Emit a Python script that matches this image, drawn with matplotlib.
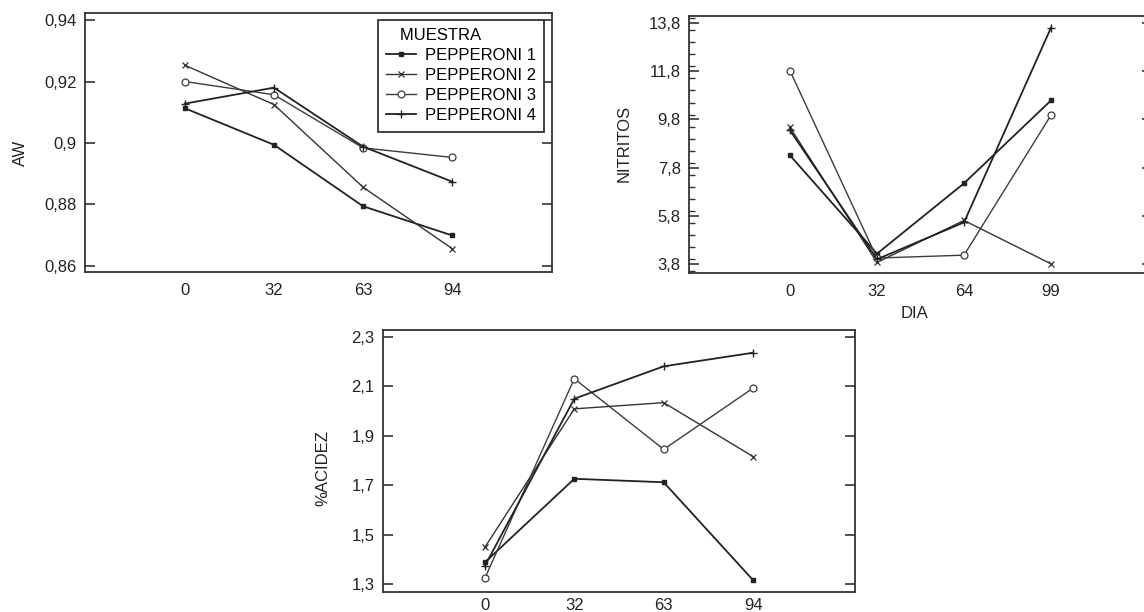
import numpy as np
import matplotlib
matplotlib.use("Agg")
import matplotlib.pyplot as plt
from matplotlib.ticker import FixedLocator, MultipleLocator

plt.rcParams['font.family'] = ['Liberation Sans', 'DejaVu Sans']
plt.rcParams['font.size'] = 12

# data
muestras = ["PEPPERONI 1", "PEPPERONI 2", "PEPPERONI 3", "PEPPERONI 4"]

dias_aw = ["0", "32", "63", "94"]
aw_p1 = [0.9113, 0.8994, 0.8794, 0.8699]
aw_p2 = [0.9253, 0.9125, 0.8856, 0.8656]
aw_p3 = [0.9200, 0.9157, 0.8984, 0.8953]
aw_p4 = [0.9128, 0.9180, 0.8988, 0.8874]

dias_nit = ["0", "32", "64", "99"]
nit_p1 = [8.31, 4.23, 7.15, 10.59]
nit_p2 = [9.47, 3.87, 5.61, 3.81]
nit_p3 = [11.82, 4.05, 4.17, 9.98]
nit_p4 = [9.35, 4.00, 5.53, 13.61]

dias_ac = ["0", "32", "63", "94"]
ac_p1 = [1.388, 1.726, 1.712, 1.316]
ac_p2 = [1.449, 2.009, 2.034, 1.816]
ac_p3 = [1.324, 2.131, 1.845, 2.093]
ac_p4 = [1.374, 2.050, 2.181, 2.236]

aw_ticks = [0.86, 0.88, 0.90, 0.92, 0.94]
aw_ticklabels = ["0,86", "0,88", "0,9", "0,92", "0,94"]
nit_ticks = [3.8, 5.8, 7.8, 9.8, 11.8, 13.8]
nit_ticklabels = ["3,8", "5,8", "7,8", "9,8", "11,8", "13,8"]
ac_ticks = [1.3, 1.5, 1.7, 1.9, 2.1, 2.3]
ac_ticklabels = ["1,3", "1,5", "1,7", "1,9", "2,1", "2,3"]

W, H = 1144, 612
styles = [
    dict(marker="s", ms=3, color="#222222", lw=1.3, mfc="#222222"),
    dict(marker="x", ms=5, color="#333333", lw=1.0, mew=0.9),
    dict(marker="o", ms=5, color="#3c3c3c", lw=1.0, mfc="white", mew=0.9),
    dict(marker="+", ms=6, color="#222222", lw=1.3, mew=1.0),
]


def px_axes(fig, left, top, right, bottom):
    return fig.add_axes([left / W, 1 - bottom / H, (right - left) / W, (bottom - top) / H])


def style_axes(ax, xlabels, yticks, yticklabels, ylim, xlim, xpad):
    for s in ax.spines.values():
        s.set_color("#333333")
        s.set_linewidth(1.3)
    ax.set_xlim(*xlim)
    ax.set_ylim(*ylim)
    ax.set_xticks(range(len(xlabels)))
    ax.set_xticklabels(xlabels)
    ax.tick_params(axis="x", length=0, pad=xpad, colors="#222222", labelsize=12)
    ax.tick_params(axis="y", which="major", direction="in", length=7, width=1.2,
                   left=True, right=True, colors="#333333", labelsize=12, pad=6)
    ax.tick_params(axis="y", labelcolor="#222222")
    ax.yaxis.set_major_locator(FixedLocator(yticks))
    ax.set_yticklabels(yticklabels)


fig = plt.figure(figsize=(W / 100, H / 100), dpi=100)

# AW
ax1 = px_axes(fig, 85, 13, 552, 272)
for vals, st, name in zip([aw_p1, aw_p2, aw_p3, aw_p4], styles, muestras):
    ax1.plot(range(4), vals, label=name, **st)
style_axes(ax1, dias_aw, aw_ticks, aw_ticklabels, (0.858, 0.9423), (-1.12, 4.12), 8)
ax1.set_ylabel("AW", color="#222222")
ax1.yaxis.set_label_coords(-0.122, 0.46)
leg = ax1.legend(title="   MUESTRA", loc="upper left", bbox_to_anchor=(378 / W, 1 - 20 / H),
                 bbox_transform=fig.transFigure, frameon=True, fancybox=False,
                 edgecolor="#333333", framealpha=1, fontsize=12, title_fontsize=12,
                 labelspacing=0.3, handlelength=1.8, handletextpad=0.5,
                 borderpad=0.5, borderaxespad=0, alignment="left")
leg.get_frame().set_linewidth(1.3)

# NITRITOS
ax2 = px_axes(fig, 689, 16, 1152, 273)
for vals, st in zip([nit_p1, nit_p2, nit_p3, nit_p4], styles):
    ax2.plot(range(4), vals, **st)
style_axes(ax2, dias_nit, nit_ticks, nit_ticklabels, (3.43, 14.09), (-1.16, 4.16), 8)
ax2.yaxis.set_minor_locator(MultipleLocator(0.5))
ax2.tick_params(axis="y", which="minor", direction="in", length=4, width=1.0,
                left=True, right=True, colors="#333333")
ax2.set_ylabel("NITRITOS", color="#222222")
ax2.yaxis.set_label_coords(-0.124, 0.506)
ax2.set_xlabel("DIA", color="#222222")
ax2.xaxis.set_label_coords(0.486, -0.129)

# %ACIDEZ
ax3 = px_axes(fig, 383, 330, 855, 592)
for vals, st in zip([ac_p1, ac_p2, ac_p3, ac_p4], styles):
    ax3.plot(range(4), vals, **st)
style_axes(ax3, dias_ac, ac_ticks, ac_ticklabels, (1.268, 2.328), (-1.14, 4.14), 4)
ax3.set_ylabel("%ACIDEZ", color="#222222")
ax3.yaxis.set_label_coords(-0.112, 0.473)

fig.savefig("out.png", dpi=100)
plt.close(fig)
